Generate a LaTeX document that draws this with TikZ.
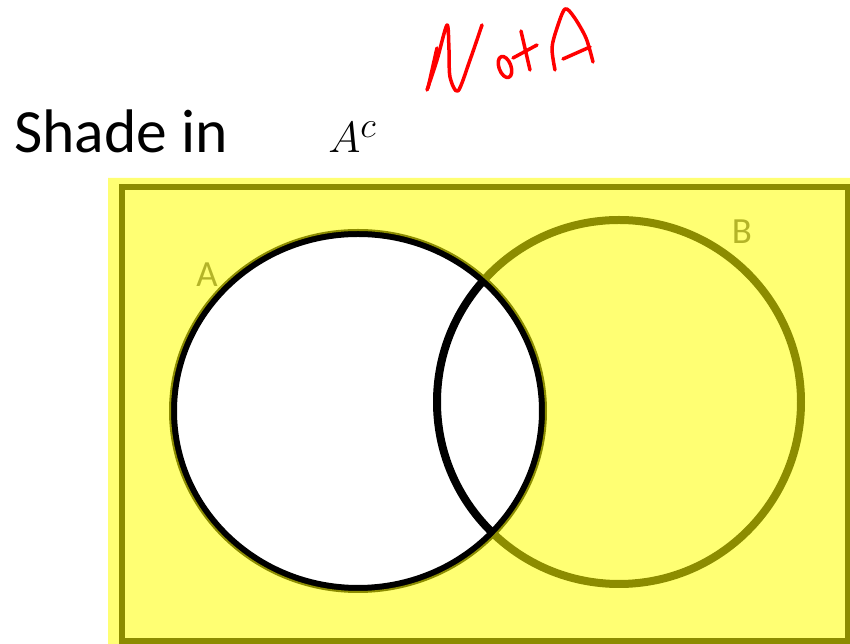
\documentclass[tikz,border=0pt]{standalone}
\usepackage[no-math]{fontspec}
\setmainfont{Carlito}
\usepackage{tikz}
\usetikzlibrary{positioning}
\definecolor{resaltador}{HTML}{FFFF00}
\definecolor{tintaRoja}{HTML}{FF0000}
\definecolor{etiquetaGris}{HTML}{5A5A5A}

\begin{document}
\begin{tikzpicture}[
  x=0.02cm, y=-0.02cm,
  contorno/.style={line width=0.16cm},
  marco/.style={line width=0.11cm},
  trazo/.style={tintaRoja, line width=0.07cm, line cap=round, line join=round},
  etiqueta/.style={font=\fontsize{21}{24}\selectfont, text=etiquetaGris}
]
  \useasboundingbox (0,0) rectangle (850,644);

  % Centros de los conjuntos
  \coordinate (cA) at (358,411);
  \coordinate (cB) at (619,402);

  % --- Título ---
  \node[anchor=base west, inner sep=0pt, font=\fontsize{35}{42}\selectfont] (titulo) at (14,153) {Shade in};
  \node[anchor=base west, inner sep=0pt, font=\fontsize{31}{38}\selectfont] (complemento) at (328,153) {$A^{c}$};

  % --- Universo y conjuntos ---
  \draw[marco] (122,187) rectangle (848,641);
  \draw[contorno] (cA) ellipse [x radius=185, y radius=178];
  \draw[contorno] (cB) ellipse [x radius=182, y radius=182];
  \node[etiqueta] (etiqA) at (207,275) {A};
  \node[etiqueta] (etiqB) at (742,232) {B};

  % --- Sombreado del complemento ---
  \fill[resaltador, opacity=0.55, even odd rule]
    (108,178) rectangle (850,644)
    (cA) ellipse [x radius=187, y radius=180];

  % --- Nota a mano: NotA ---
  \draw[trazo] plot[smooth, tension=0.5] coordinates {(427,90) (437,60) (447,25) (449,50) (450,77) (458,91) (470,60) (482,25)};
  \draw[trazo] (437,48) -- (428,88);
  \draw[trazo, rotate around={20:(505,67)}] (505,67) ellipse [x radius=6, y radius=11];
  \draw[trazo] (521,31) -- (530,70);
  \draw[trazo] (513,58) -- (537,45);
  \draw[trazo] plot[smooth, tension=0.5] coordinates {(555,70) (552,48) (557,28) (565,9) (574,17) (586,38) (593,62)};
  \draw[trazo] (563,59) -- (590,47);
\end{tikzpicture}
\end{document}
